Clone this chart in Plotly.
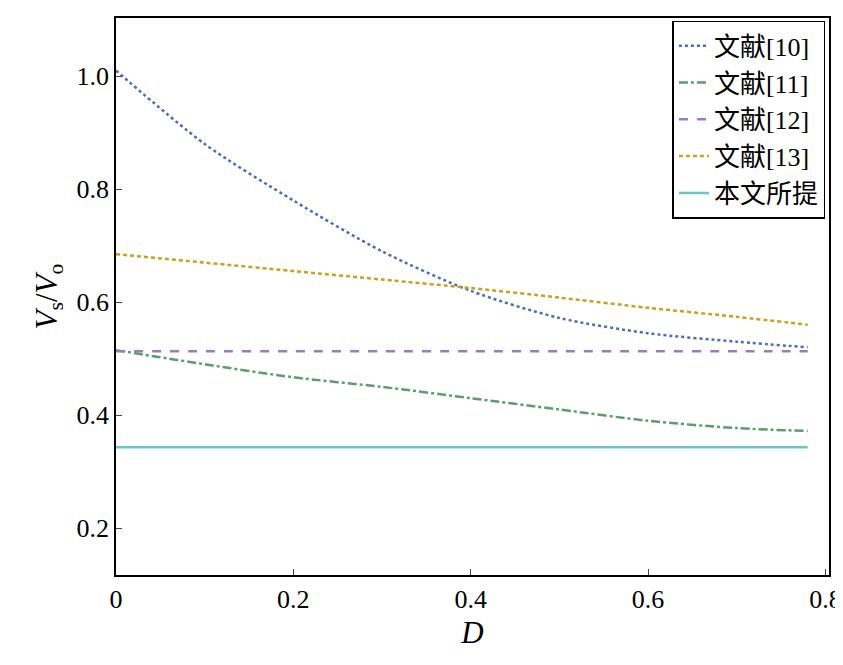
import plotly.graph_objects as go

d_vals = [0, 0.1, 0.2, 0.3, 0.4, 0.5, 0.6, 0.7, 0.78]
ref10 = [1.01, 0.88, 0.78, 0.69, 0.62, 0.572, 0.545, 0.53, 0.52]
ref11 = [0.515, 0.49, 0.467, 0.45, 0.43, 0.41, 0.39, 0.377, 0.372]
ref12 = [0.513] * 9
ref13 = [0.685, 0.67, 0.655, 0.64, 0.625, 0.608, 0.59, 0.574, 0.56]
ours = [0.343] * 9

series = [
    ("文献[10]", ref10, "#4a6fb5", "dot"),
    ("文献[11]", ref11, "#5a9e6e", "dashdot"),
    ("文献[12]", ref12, "#a07ab5", "dash"),
    ("文献[13]", ref13, "#c9a020", "4px,3px"),
    ("本文所提", ours, "#6cc5c5", "solid"),
]

fig = go.Figure()
for name, ys, color, dash in series:
    fig.add_trace(go.Scatter(x=d_vals, y=ys, mode="lines", name=name,
                             line=dict(color=color, dash=dash, width=2.5,
                                       shape="spline", smoothing=0.8)))

font = "Liberation Serif, Noto Sans CJK SC"
fig.update_layout(
    width=843, height=665,
    margin=dict(l=108, r=22, t=8, b=98),
    plot_bgcolor="white", paper_bgcolor="white",
    font=dict(family=font, size=26, color="black"),
    showlegend=True,
    legend=dict(x=0.995, y=0.995, xanchor="right", yanchor="top",
                bordercolor="black", borderwidth=1.5, bgcolor="white",
                font=dict(size=26)),
    xaxis=dict(range=[0, 0.804], tickvals=[0, 0.2, 0.4, 0.6, 0.8],
               ticktext=["0", "0.2", "0.4", "0.6", "0.8"],
               showline=True, linecolor="black", linewidth=1.5, mirror=True,
               ticks="inside", ticklen=6, showgrid=False, zeroline=False,
               title=dict(text="<i>D</i>", standoff=8)),
    yaxis=dict(range=[0.117, 1.103], tickvals=[0.2, 0.4, 0.6, 0.8, 1.0],
               ticktext=["0.2", "0.4", "0.6", "0.8", "1.0"],
               showline=True, linecolor="black", linewidth=1.5, mirror=True,
               ticks="inside", ticklen=6, showgrid=False, zeroline=False,
               title=dict(text="<i>V</i><sub>s</sub>/<i>V</i><sub>o</sub>", standoff=10)),
)

fig.write_html("out.html")
